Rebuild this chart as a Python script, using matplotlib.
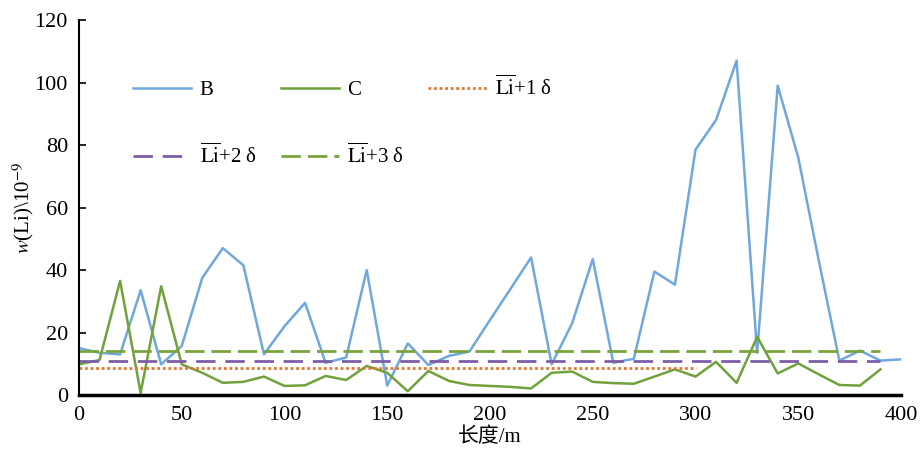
import matplotlib
matplotlib.use("Agg")
import matplotlib.pyplot as plt
import numpy as np

plt.rcParams['font.family'] = ['Liberation Serif', 'Noto Sans CJK SC', 'DejaVu Sans']
plt.rcParams['mathtext.fontset'] = 'stix'

# Data
length_b = list(range(0, 401, 10))
series_b = [15, 13.5, 13, 33.5, 9.8, 15.7, 37.5, 47, 41.5, 13,
            22, 29.5, 10.3, 12, 40, 3, 16.5, 9.6, 12.5, 13.9,
            24, 34, 44, 9.8, 23, 43.5, 10.3, 11.6, 39.5, 35.3,
            78.5, 88, 107, 13.5, 99, 76, 43, 11, 14.2, 11, 11.4]
length_c = list(range(0, 391, 10))
series_c = [9.8, 11.2, 36.5, 0.7, 34.8, 9.8, 7.1, 3.9, 4.2, 5.9,
            2.9, 3.1, 6.1, 4.8, 9.3, 7.1, 1.2, 7.7, 4.5, 3.2,
            2.9, 2.6, 2.1, 7.1, 7.5, 4.2, 3.8, 3.6, 5.9, 8.2,
            5.9, 10.6, 3.9, 18.6, 6.9, 10.1, 6.6, 3.2, 3.0, 8.2]
li1_x = [0, 300]
li1_y = [8.6, 8.6]
li2_x = [0, 390]
li2_y = [11.0, 11.0]
li3_x = [0, 390]
li3_y = [14.1, 14.1]

xticks = [0, 50, 100, 150, 200, 250, 300, 350, 400]
yticks = [0, 20, 40, 60, 80, 100, 120]

fig = plt.figure(figsize=(9.21, 4.55), dpi=100)
ax = fig.add_axes([79/921, 1-395/455, 822/921, 375/455])

hb, = ax.plot(length_b, series_b, color='#6fa8dc', lw=1.8, label='B')
hc, = ax.plot(length_c, series_c, color='#70a23c', lw=1.8, label='C')
h1, = ax.plot(li1_x, li1_y, color='#e0782f', lw=2, linestyle=(0, (1, 1)),
              label=r'$\overline{\mathrm{Li}}$+1 δ')
h2, = ax.plot(li2_x, li2_y, color='#7c5ea8', lw=2, linestyle=(0, (7, 3.5)),
              label=r'$\overline{\mathrm{Li}}$+2 δ')
h3, = ax.plot(li3_x, li3_y, color='#7aa43c', lw=2, linestyle=(0, (7, 2.5)),
              label=r'$\overline{\mathrm{Li}}$+3 δ')

ax.set_xlim(0, 400)
ax.set_ylim(0, 120)
ax.set_xticks(xticks)
ax.set_yticks(yticks)
ax.tick_params(axis='x', length=0, labelsize=16, pad=8)
ax.tick_params(axis='y', direction='in', length=5, width=1.2, labelsize=16, pad=8)
for s in ['top', 'right']:
    ax.spines[s].set_visible(False)
ax.spines['left'].set_linewidth(1.5)
ax.spines['bottom'].set_linewidth(2.5)

ax.set_xlabel('长度/m', fontsize=15, labelpad=2)
ax.set_ylabel(r'$w$(Li)\10$^{-9}$', fontsize=15)
ax.yaxis.set_label_coords(-0.052, 0.5)

ax.legend([hb, h2, hc, h3, h1], [hb.get_label(), h2.get_label(), hc.get_label(),
                                 h3.get_label(), h1.get_label()],
          ncol=3, frameon=False, fontsize=15, loc='upper left',
          bbox_to_anchor=(0.053, 0.88), handlelength=2.8, handletextpad=0.4,
          columnspacing=1.15, labelspacing=2.1, borderpad=0)

fig.savefig('out.png', dpi=100)
